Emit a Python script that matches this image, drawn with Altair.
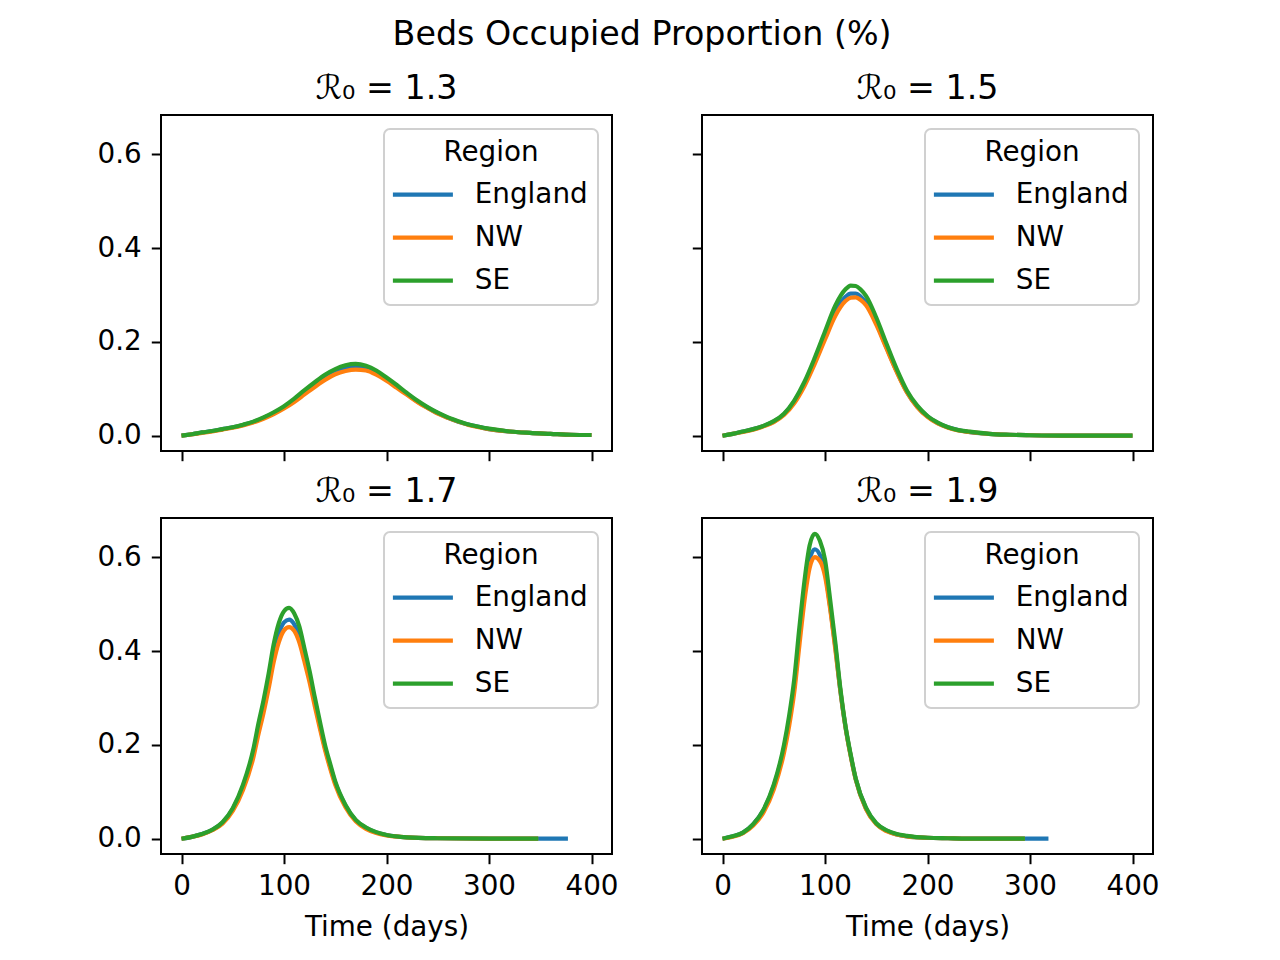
import altair as alt
import pandas as pd

REGIONS = ["England", "NW", "SE"]
COLORS = ["#1f77b4", "#ff7f0e", "#2ca02c"]
TITLES = ["ℛ₀ = 1.3", "ℛ₀ = 1.5", "ℛ₀ = 1.7", "ℛ₀ = 1.9"]
X_TICKS = [0, 100, 200, 300, 400]
Y_TICKS = [0.0, 0.2, 0.4, 0.6]

# ---- R0 = 1.3 ----
D13 = [0, 10, 20, 30, 40, 50, 60, 70, 80, 90, 100, 110, 120, 130, 140, 150, 160, 170, 180, 190,
       200, 210, 220, 230, 240, 250, 260, 270, 280, 290, 300, 320, 340, 360, 380, 400]
ENG_13 = [0, .003, .007, .010, .014, .018, .023, .029, .038, .048, .061, .076, .093, .110, .125, .137, .145, .148,
          .145, .135, .121, .105, .089, .073, .060, .048, .038, .030, .024, .019, .014, .009, .006, .004, .002, .0015]
NW_13 = [0, .003, .006, .009, .013, .017, .022, .028, .036, .046, .058, .072, .088, .104, .119, .131, .138, .141,
         .139, .130, .117, .102, .087, .072, .059, .047, .038, .030, .023, .018, .014, .009, .006, .004, .002, .0015]
SE_13 = [0, .003, .007, .010, .014, .018, .0235, .030, .039, .050, .063, .079, .097, .114, .130, .142, .150, .153,
         .149, .139, .124, .108, .091, .075, .061, .049, .039, .031, .024, .019, .015, .009, .006, .004, .002, .0015]

# ---- R0 = 1.5 ----
D15 = [0, 10, 20, 30, 40, 50, 60, 70, 80, 90, 100, 110, 120, 125, 130, 135, 140, 150, 160, 170, 180, 190,
       200, 210, 220, 230, 240, 260, 280, 300, 340, 400]
ENG_15 = [0, .004, .009, .014, .021, .030, .046, .073, .111, .160, .213, .264, .296, .303, .303, .296, .284, .241,
          .188, .137, .093, .062, .041, .027, .018, .012, .008, .004, .002, .001, 0, 0]
NW_15 = [0, .004, .008, .013, .020, .029, .044, .069, .106, .153, .205, .255, .287, .294, .295, .289, .278, .237,
         .186, .136, .092, .061, .040, .026, .017, .011, .008, .004, .002, .001, 0, 0]
SE_15 = [0, .004, .009, .014, .021, .031, .047, .075, .115, .166, .222, .277, .312, .320, .319, .311, .298, .252,
         .196, .142, .096, .064, .042, .028, .018, .012, .009, .004, .002, .001, 0, 0]

# ---- R0 = 1.7 ----
D17 = [0, 10, 20, 30, 40, 50, 60, 70, 75, 80, 85, 90, 95, 100, 105, 110, 115, 120, 125, 130, 135, 140, 145, 150,
       160, 170, 180, 190, 200, 220, 250, 300, 348]
D17_ENG = [0, 10, 20, 30, 40, 50, 60, 70, 75, 80, 85, 90, 95, 100, 105, 110, 115, 120, 125, 130, 135, 140, 145, 150,
           160, 170, 180, 190, 200, 220, 250, 300, 377]
ENG_17 = [0, .004, .010, .019, .034, .063, .111, .183, .235, .283, .337, .395, .437, .461, .467, .457, .430, .387,
          .342, .290, .241, .194, .155, .119, .070, .039, .023, .013, .008, .003, .001, 0, 0]
NW_17 = [0, .004, .009, .018, .032, .059, .104, .172, .222, .268, .320, .377, .419, .444, .451, .443, .418, .377,
         .333, .283, .235, .189, .150, .115, .067, .037, .021, .012, .007, .003, .001, 0, 0]
SE_17 = [0, .004, .010, .019, .035, .065, .115, .190, .245, .295, .352, .415, .460, .485, .492, .480, .452, .405,
         .357, .302, .250, .200, .160, .122, .072, .040, .024, .014, .008, .003, .001, 0, 0]

# ---- R0 = 1.9 ----
D19 = [0, 10, 20, 30, 40, 50, 60, 65, 70, 75, 80, 85, 90, 95, 100, 105, 110, 115, 120, 125, 130,
       140, 150, 160, 170, 180, 200, 220, 250, 295]
D19_ENG = [0, 10, 20, 30, 40, 50, 60, 65, 70, 75, 80, 85, 90, 95, 100, 105, 110, 115, 120, 125, 130,
           140, 150, 160, 170, 180, 200, 220, 250, 318]
ENG_19 = [0, .005, .013, .031, .061, .112, .193, .252, .325, .430, .525, .595, .617, .605, .570, .495, .410, .315,
          .238, .178, .127, .064, .032, .017, .009, .005, .002, .001, 0, 0]
NW_19 = [0, .004, .012, .028, .056, .105, .183, .240, .312, .412, .508, .577, .600, .592, .560, .490, .405, .315,
         .238, .177, .126, .063, .031, .016, .009, .005, .002, .001, 0, 0]
SE_19 = [0, .005, .013, .031, .062, .115, .200, .262, .340, .450, .550, .625, .650, .635, .595, .510, .420, .320,
         .240, .180, .128, .066, .033, .018, .010, .006, .002, .001, 0, 0]

PANELS = [
    [(D13, ENG_13), (D13, NW_13), (D13, SE_13)],
    [(D15, ENG_15), (D15, NW_15), (D15, SE_15)],
    [(D17_ENG, ENG_17), (D17, NW_17), (D17, SE_17)],
    [(D19_ENG, ENG_19), (D19, NW_19), (D19, SE_19)],
]

X_DOMAIN = [-20, 420]
Y_DOMAIN = [-0.0326, 0.6836]
FONT = "DejaVu Sans"
FS = 27.8


def frame(series):
    rows = []
    for region, (days, vals) in zip(REGIONS, series):
        for d, v in zip(days, vals):
            rows.append({"day": d, "value": v, "region": region})
    return pd.DataFrame(rows)


def panel(i, show_x_labels, show_y_labels):
    xkw = dict(values=X_TICKS, labels=show_x_labels, title="Time (days)" if show_x_labels else "")
    ykw = dict(values=Y_TICKS, labels=show_y_labels, format=".1f", title="")
    return alt.Chart(
        frame(PANELS[i]),
        title=alt.TitleParams(TITLES[i], fontSize=33.3, font=FONT, fontWeight="normal",
                              anchor="middle", baseline="alphabetic", offset=-17, color="black"),
    ).mark_line(strokeWidth=4.2, interpolate="monotone").encode(
        x=alt.X("day:Q", scale=alt.Scale(domain=X_DOMAIN, nice=False, zero=False), axis=alt.Axis(**xkw)),
        y=alt.Y("value:Q", scale=alt.Scale(domain=Y_DOMAIN, nice=False, zero=False), axis=alt.Axis(**ykw)),
        color=alt.Color("region:N", scale=alt.Scale(domain=REGIONS, range=COLORS),
                        legend=alt.Legend(title="Region", orient="top-right", offset=14)),
    ).properties(width=451, height=336)


chart = alt.concat(
    panel(0, False, True), panel(1, False, False),
    panel(2, True, True), panel(3, True, False),
    columns=2, spacing={"column": 70, "row": 10},
).resolve_legend(color="independent").properties(
    title=alt.TitleParams("Beds Occupied Proportion (%)", fontSize=33.3, font=FONT, fontWeight="normal",
                          anchor="middle", color="black", offset=18, dx=14),
    padding={"left": 88, "top": 10, "right": 5, "bottom": 5},
).configure_view(
    stroke="black", strokeWidth=2
).configure_axis(
    labelFont=FONT, labelFontSize=FS, labelColor="black",
    titleFont=FONT, titleFontSize=FS, titleFontWeight="normal", titleColor="black", titlePadding=13,
    tickColor="black", tickSize=9.7, tickWidth=2, domain=False, grid=False,
).configure_axisX(labelPadding=9).configure_axisY(labelPadding=10).configure_legend(
    titleFont=FONT, titleFontSize=FS, titleFontWeight="normal", titleColor="black", titleAnchor="middle",
    titlePadding=14, labelFont=FONT, labelFontSize=FS, labelColor="black", labelOffset=58, symbolOffset=-5,
    symbolType="M-1,0H5", symbolSize=400, symbolStrokeWidth=4.2, rowPadding=14, padding=10,
    strokeColor="#d0d0d0", strokeWidth=2, cornerRadius=6, fillColor="rgba(255,255,255,0.8)",
)

chart.save("out.html", embed_options={"renderer": "svg", "actions": False})
